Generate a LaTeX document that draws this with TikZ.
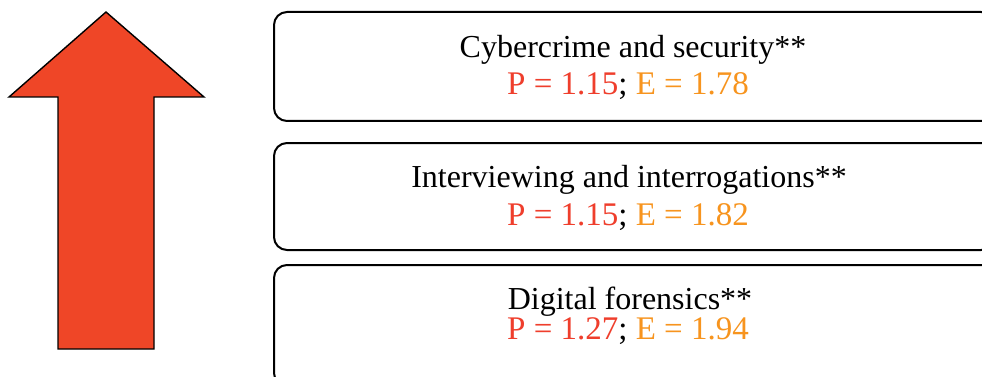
\documentclass[tikz,border=0pt]{standalone}
\usepackage{fontspec}
\setmainfont{Liberation Serif}
\definecolor{arrowred}{HTML}{EF4627}
\definecolor{pred}{HTML}{EF3E2C}
\definecolor{eorange}{HTML}{F7941E}
\begin{document}
\begin{tikzpicture}[x=1pt,y=-1pt,
  topicbox/.style={draw=black, line width=2pt, rounded corners=13pt, fill=white},
  title/.style={anchor=base, font=\fontsize{32}{36}\selectfont, inner sep=0pt},
  score/.style={anchor=base, font=\fontsize{33}{38}\selectfont, inner sep=0pt}]
\useasboundingbox (0,0) rectangle (982,377);
\clip (0,0) rectangle (982,377);

% upward arrow
\draw[fill=arrowred, draw=black, line width=1.4pt, line join=miter]
  (106,12) -- (204,97) -- (154,97) -- (154,349) -- (58,349) -- (58,97) -- (9,97) -- cycle;

% topic boxes
\draw[topicbox] (274,12) rectangle (994,121);
\node[inner sep=0pt] (b1) at (634,66.5) {};
\draw[topicbox] (274,143) rectangle (994,250);
\node[inner sep=0pt] (b2) at (634,196.5) {};
\draw[topicbox] (274,265) rectangle (994,386);
\node[inner sep=0pt] (b3) at (634,313.5) {};

% labels
\node[title] (t1) at (633,58) {Cybercrime and security**};
\node[score] (s1) at (628,95) {\textcolor{pred}{P = 1.15}; \textcolor{eorange}{E = 1.78}};
\node[title] (t2) at (629,187) {Interviewing and interrogations**};
\node[score] (s2) at (628,225) {\textcolor{pred}{P = 1.15}; \textcolor{eorange}{E = 1.82}};
\node[title] (t3) at (630,309) {Digital forensics**};
\node[score] (s3) at (628,339) {\textcolor{pred}{P = 1.27}; \textcolor{eorange}{E = 1.94}};
\end{tikzpicture}
\end{document}
